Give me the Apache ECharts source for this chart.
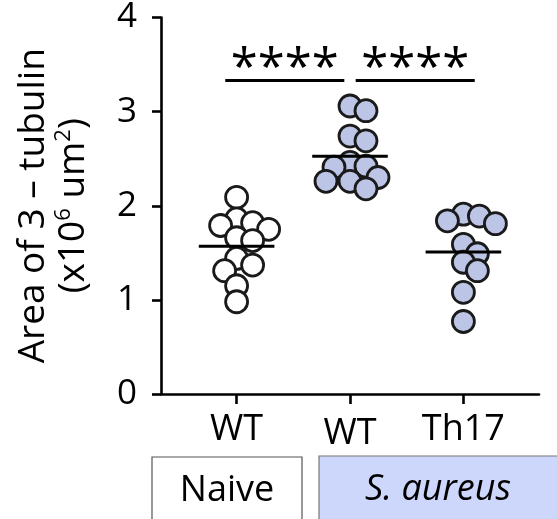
<!DOCTYPE html>
<html>
<head>
<meta charset="utf-8">
<script src="https://cdn.jsdelivr.net/npm/echarts@6/dist/echarts.min.js"></script>
<style>
html,body{margin:0;padding:0;background:#fff;}
#chart{width:557px;height:519px;}
</style>
</head>
<body>
<div id="chart"></div>
<script>
// ---- data ----
var groupLabels = ['WT', 'WT', 'Th17'];
var naiveWT = [2.09, 1.86, 1.82, 1.79, 1.75, 1.66, 1.63, 1.44, 1.37, 1.31, 1.15, 0.98];
var aureusWT = [3.06, 3.01, 2.74, 2.69, 2.46, 2.42, 2.41, 2.30, 2.26, 2.26, 2.18];
var aureusTh17 = [1.91, 1.89, 1.84, 1.81, 1.59, 1.49, 1.40, 1.31, 1.08, 0.77];
var yTicks = [0, 1, 2, 3, 4];
var comparisons = [[1, 2, '****'], [2, 3, '****']];
var conditionLabels = ['Naive', 'S. aureus'];

// ---- layout ----
var W = 557, H = 519;
var gridL = 161, gridR = 18, gridT = 16, gridB = 125;
var xMin = 1 / 3, xMax = 11 / 3, yMin = 0, yMax = 4;
var pxPerX = (W - gridL - gridR) / (xMax - xMin);
var pxPerY = (H - gridT - gridB) / (yMax - yMin);
var FONT = '"Open Sans", "Noto Sans", sans-serif';
var symSize = 22;

// deterministic beeswarm layout (x offsets from overlap avoidance)
function swarm(values, center) {
  var minDist = 16; // px
  var placed = [];
  var out = [];
  values.forEach(function (v) {
    var yp = v * pxPerY;
    var best = null;
    for (var k = 0; k < 40 && best === null; k++) {
      var cands = k === 0 ? [0] : [k * 2, -k * 2];
      for (var c = 0; c < cands.length; c++) {
        var xo = cands[c];
        var ok = placed.every(function (p) {
          var dx = p[0] - xo, dy = p[1] - yp;
          return dx * dx + dy * dy >= minDist * minDist;
        });
        if (ok) { best = xo; break; }
      }
    }
    placed.push([best, yp]);
    out.push([center + best / pxPerX, v]);
  });
  return out;
}

var groups = [naiveWT, aureusWT, aureusTh17];
var fills = ['#ffffff', '#bdc5e7', '#bdc5e7'];
var series = [];
groups.forEach(function (vals, i) {
  series.push({
    type: 'scatter',
    data: swarm(vals, i + 1),
    symbol: 'circle',
    symbolSize: symSize,
    itemStyle: { color: fills[i], borderColor: '#1a1a1a', borderWidth: 2.8, opacity: 1 },
    z: 2
  });
});

var means = groups.map(function (vals, i) {
  var s = vals.reduce(function (a, b) { return a + b; }, 0);
  return [i + 1, s / vals.length];
});

series.push({
  type: 'custom',
  data: means,
  z: 5,
  renderItem: function (params, api) {
    var g = api.value(0), m = api.value(1);
    var p1 = api.coord([g - 1 / 3, m]);
    var p2 = api.coord([g + 1 / 3, m]);
    return { type: 'line', shape: { x1: p1[0], y1: p1[1], x2: p2[0], y2: p2[1] },
      style: { stroke: '#000', lineWidth: 3 } };
  }
});

var sigLevel = 3.33;
series.push({
  type: 'custom',
  data: comparisons.map(function (c) { return [c[0], c[1]]; }),
  z: 5,
  renderItem: function (params, api) {
    var a = api.value(0), b = api.value(1);
    var shared = function (g) {
      return comparisons.filter(function (c) { return c[0] === g || c[1] === g; }).length > 1;
    };
    var left = shared(a) ? a + 0.05 : a - 0.1;
    var right = shared(b) ? b - 0.05 : b + 0.1;
    var p1 = api.coord([left, sigLevel]);
    var p2 = api.coord([right, sigLevel]);
    return {
      type: 'group',
      children: [
        { type: 'line', shape: { x1: p1[0], y1: p1[1], x2: p2[0], y2: p2[1] },
          style: { stroke: '#000', lineWidth: 3 } },
        { type: 'text', x: (p1[0] + p2[0]) / 2, y: p1[1] + 14,
          style: { text: comparisons[params.dataIndex][2], font: '49px ' + FONT,
            fill: '#000', align: 'center', verticalAlign: 'bottom' } }
      ]
    };
  }
});

var chart = echarts.init(document.getElementById('chart'));
chart.setOption({
  animation: false,
  backgroundColor: '#fff',
  grid: { left: gridL, right: gridR, top: gridT, bottom: gridB },
  xAxis: {
    type: 'value', min: xMin, max: xMax,
    axisLine: { show: true, lineStyle: { color: '#000', width: 2.6 } },
    axisTick: { show: true, length: 10, lineStyle: { color: '#000', width: 2.6 }, customValues: [1, 2, 3] },
    axisLabel: { customValues: [1, 2, 3], margin: 18, fontSize: 36, color: '#000', fontFamily: FONT,
      formatter: function (v) {
        var i = Math.round(v) - 1;
        return i === 1 ? '{low|' + groupLabels[i] + '}' : groupLabels[i];
      },
      rich: { low: { fontSize: 36, color: '#000', fontFamily: FONT, padding: [4, 0, 0, 0] } } },
    splitLine: { show: false }
  },
  yAxis: {
    type: 'value', min: yMin, max: yMax, interval: 1,
    axisLine: { show: true, lineStyle: { color: '#000', width: 2.6 } },
    axisTick: { show: true, length: 9, lineStyle: { color: '#000', width: 2.6 } },
    axisLabel: { margin: 24, fontSize: 35, color: '#000', fontFamily: FONT,
      formatter: function (v) { return yTicks.indexOf(v) >= 0 ? String(v) : ''; } },
    splitLine: { show: false },
    name: '{a|Area of 3 – tubulin}\n{a|(x10}{s|6}{a| um}{s|2}{a|)}',
    nameLocation: 'middle',
    nameRotate: 90,
    nameGap: 68,
    nameTextStyle: {
      fontFamily: FONT,
      rich: {
        a: { fontSize: 37, lineHeight: 40, color: '#000', fontFamily: FONT },
        s: { fontSize: 22, lineHeight: 40, color: '#000', fontFamily: FONT, verticalAlign: 'top', padding: [0, 0, 16, 0] }
      }
    }
  },
  graphic: [
    { type: 'rect', shape: { x: 152, y: 457, width: 150, height: 80 },
      style: { fill: '#ffffff', stroke: '#555', lineWidth: 1.2 } },
    { type: 'rect', shape: { x: 319, y: 456, width: 260, height: 80 },
      style: { fill: '#cdd6fb', stroke: '#777', lineWidth: 1.2 } },
    { type: 'text', x: 227, y: 491, style: { text: conditionLabels[0], font: '36px ' + FONT,
      fill: '#000', align: 'center', verticalAlign: 'middle' } },
    { type: 'text', x: 438, y: 490, style: { text: conditionLabels[1], font: 'italic 36px ' + FONT,
      fill: '#000', align: 'center', verticalAlign: 'middle' } }
  ],
  series: series
});
</script>
</body>
</html>
